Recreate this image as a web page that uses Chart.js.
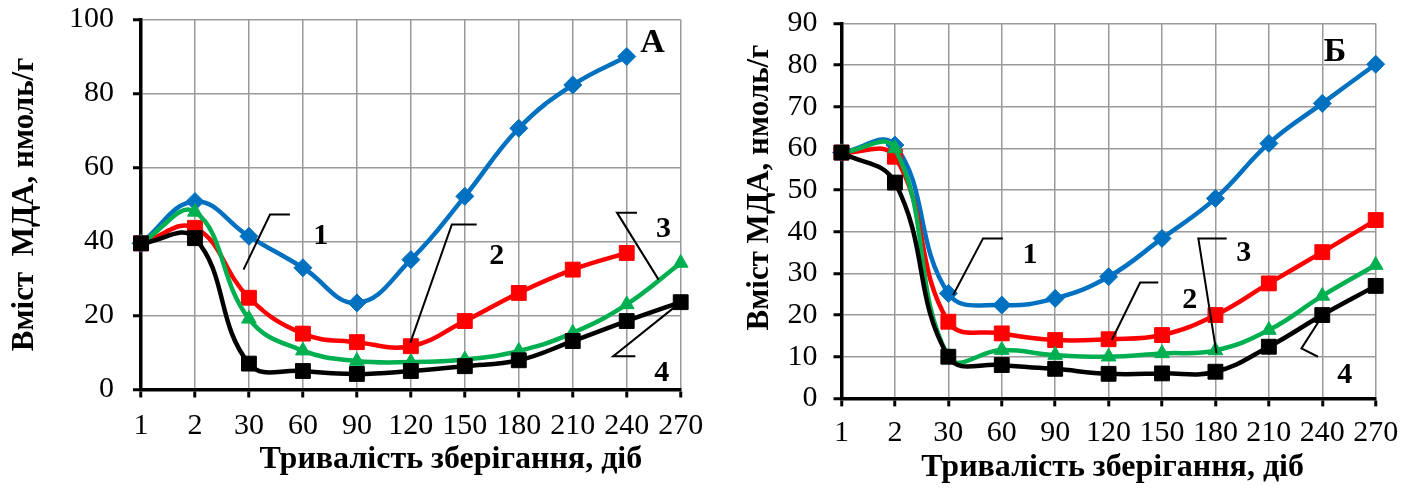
<!DOCTYPE html>
<html><head><meta charset="utf-8">
<script src="https://cdn.jsdelivr.net/npm/chart.js@4.4.1/dist/chart.umd.min.js"></script>
<style>
html,body{margin:0;padding:0;background:#fff;}
#wrap{position:relative;width:1416px;height:490px;overflow:hidden;background:#fff;}
.box{position:absolute;top:0;height:490px;width:708px;}
#boxA{left:0;}
#boxB{left:708px;}
</style></head><body>
<div id="wrap"><div class="box" id="boxA"><canvas id="cA"></canvas></div><div class="box" id="boxB"><canvas id="cB"></canvas></div></div>
<script>
// ---- data ----
const categories = ['1','2','30','60','90','120','150','180','210','240','270'];
const seriesNames = ['1','2','3','4'];
const yMaxA = 100, yStepA = 20;
const yMaxB = 90, yStepB = 10;

// Panel A
const a1 = [39.5, 50.8, 41.4, 32.9, 23.4, 35.1, 52.2, 70.6, 82.3, 90.0, null];
const a2 = [39.5, 43.7, 24.8, 15.1, 12.8, 11.7, 18.5, 26.1, 32.4, 36.9, null];
const a3 = [39.5, 48.0, 19.1, 10.5, 7.7, 7.4, 8.1, 10.4, 15.3, 23.0, 34.2];
const a4 = [39.5, 40.9, 7.0, 5.0, 4.2, 5.0, 6.3, 7.9, 13.1, 18.5, 23.6];

// Panel Б
const b1 = [59.0, 60.8, 25.2, 22.4, 24.0, 29.2, 38.4, 48.0, 61.2, 70.8, 80.2];
const b2 = [59.0, 58.0, 18.4, 15.6, 14.0, 14.2, 15.2, 20.0, 27.6, 35.1, 42.8];
const b3 = [59.0, 60.0, 10.0, 11.6, 10.4, 10.0, 10.8, 11.5, 16.4, 24.6, 32.0];
const b4 = [59.0, 51.8, 10.0, 8.0, 7.1, 5.9, 6.0, 6.4, 12.4, 20.0, 27.0];

const xTitle = 'Тривалість зберігання, діб';
const yTitleA = 'Вміст  МДА, нмоль/г';
const yTitleB = 'Вміст МДА, нмоль/г';
const NB = n => '\u00A0'.repeat(n);

// ---- annotation layout (in data coordinates: category index, value) ----
const calloutsA = [
  {text: seriesNames[0], path: [[1.90, 32.4], [2.39, 47.3], [2.76, 47.3]], at: [3.33, 41.4]},
  {text: seriesNames[1], path: [[4.99, 12.6], [5.76, 44.6], [6.22, 44.6]], at: [6.59, 36.0]},
  {text: seriesNames[2], path: [[9.59, 29.7], [8.82, 47.8], [9.19, 47.8]], at: [9.68, 43.2]},
  {text: seriesNames[3], path: [[9.95, 23.0], [8.75, 9.0], [9.16, 9.0]], at: [9.65, 4.5]}
];
const calloutsB = [
  {text: seriesNames[0], path: [[2.09, 24.8], [2.65, 38.4], [3.02, 38.4]], at: [3.53, 34.4]},
  {text: seriesNames[1], path: [[5.06, 14.0], [5.59, 27.8], [5.93, 27.8]], at: [6.52, 23.6]},
  {text: seriesNames[2], path: [[7.02, 10.8], [6.68, 38.4], [7.21, 38.4]], at: [7.53, 34.8]},
  {text: seriesNames[3], path: [[8.99, 19.6], [8.61, 12.0], [8.92, 10.0]], at: [9.42, 5.6]}
];
const panelA = {text: 'А', at: [9.48, 93.7]};
const panelB = {text: 'Б', at: [9.24, 83.2]};

// ---- styling ----
const SERIF = '"Liberation Serif", "Times New Roman", serif';
const styles = [
  {color: '#0070C0', pointStyle: 'rectRot', radius: 9, order: 3},
  {color: '#FF0000', pointStyle: 'rect', radius: 10.5, order: 2},
  {color: '#00B050', pointStyle: 'triangle', radius: 8.5, order: 1},
  {color: '#000000', pointStyle: 'rect', radius: 10.5, order: 0}
];

const calloutPlugin = {
  id: 'callouts',
  afterDatasetsDraw(chart, args, opts) {
    const {ctx} = chart;
    const x = chart.scales.x, y = chart.scales.y;
    const P = p => [x.getPixelForValue(p[0]), y.getPixelForValue(p[1])];
    ctx.save();
    ctx.strokeStyle = '#000';
    ctx.lineWidth = 2;
    ctx.fillStyle = '#000';
    ctx.textAlign = 'center';
    ctx.textBaseline = 'middle';
    (opts.items || []).forEach(it => {
      ctx.beginPath();
      it.path.forEach((p, i) => { const q = P(p); i ? ctx.lineTo(q[0], q[1]) : ctx.moveTo(q[0], q[1]); });
      ctx.stroke();
      ctx.font = 'bold 30px ' + SERIF;
      const t = P(it.at);
      ctx.fillText(it.text, t[0], t[1]);
    });
    if (opts.panel) {
      ctx.font = 'bold 34px ' + SERIF;
      const t = P(opts.panel.at);
      ctx.fillText(opts.panel.text, t[0], t[1]);
    }
    ctx.restore();
  }
};

function makeDatasets(arrs) {
  return arrs.map((d, i) => ({
    label: seriesNames[i],
    data: d,
    borderColor: styles[i].color,
    backgroundColor: styles[i].color,
    borderWidth: 4.5,
    pointStyle: styles[i].pointStyle,
    pointRadius: styles[i].radius,
    pointBorderWidth: 1,
    pointBackgroundColor: styles[i].color,
    pointBorderColor: styles[i].color,
    tension: 0.42,
    order: styles[i].order,
    clip: false,
    spanGaps: false
  }));
}

function makeChart(id, arrs, cfg) {
  return new Chart(document.getElementById(id), {
    type: 'line',
    data: {labels: categories, datasets: makeDatasets(arrs)},
    options: {
      responsive: true,
      maintainAspectRatio: false,
      animation: false,
      events: [],
      layout: {padding: cfg.padding},
      plugins: {
        legend: {display: false},
        tooltip: {enabled: false},
        callouts: {items: cfg.callouts, panel: cfg.panel}
      },
      scales: {
        x: {
          type: 'category',
          offset: false,
          afterFit: s => { s.height = cfg.xHeight; s.paddingLeft = 0; s.paddingRight = 0; },
          grid: {display: true, color: '#9a9a9a', lineWidth: 1.5, drawTicks: true, tickLength: 8, tickColor: '#000', tickWidth: 3},
          border: {display: true, color: '#000', width: 3.5},
          ticks: {color: '#000', font: {family: SERIF, size: 30}, padding: cfg.xTickPad, maxRotation: 0, autoSkip: false},
          title: {display: true, text: cfg.xTitle, color: '#000', font: {family: SERIF, size: 32, weight: 'bold'}, padding: {top: 0, bottom: cfg.xTitlePad}}
        },
        y: {
          min: 0, max: cfg.yMax,
          afterFit: s => { s.width = cfg.yWidth; s.paddingTop = 0; s.paddingBottom = 0; },
          grid: {display: true, color: '#9a9a9a', lineWidth: 1.5, drawTicks: true, tickLength: 8, tickColor: '#000', tickWidth: 3},
          border: {display: true, color: '#000', width: 3.5},
          ticks: {stepSize: cfg.yStep, color: '#000', font: {family: SERIF, size: 30}, padding: cfg.yTickPad},
          title: {display: true, text: cfg.yTitle, color: '#000', font: {family: SERIF, size: 31, weight: 'bold'}, padding: {top: cfg.yTitlePad, bottom: 0}}
        }
      }
    },
    plugins: [calloutPlugin]
  });
}

makeChart('cA', [a1, a2, a3, a4], {
  padding: {left: 0, right: 27.3, top: 19.5, bottom: 0},
  xHeight: 100.5, yWidth: 141, yMax: yMaxA, yStep: yStepA,
  xTickPad: 10.5, xTitlePad: 11, yTickPad: 19, yTitlePad: 6,
  xTitle: NB(10) + xTitle,
  yTitle: yTitleA, callouts: calloutsA, panel: panelA
});
makeChart('cB', [b1, b2, b3, b4], {
  padding: {left: 0, right: 40.3, top: 23.4, bottom: 0},
  xHeight: 91.6, yWidth: 133.5, yMax: yMaxB, yStep: yStepB,
  xTickPad: 8.6, xTitlePad: 3, yTickPad: 16, yTitlePad: 33,
  xTitle: NB(1) + xTitle,
  yTitle: NB(6) + yTitleB, callouts: calloutsB, panel: panelB
});
</script>
</body></html>
